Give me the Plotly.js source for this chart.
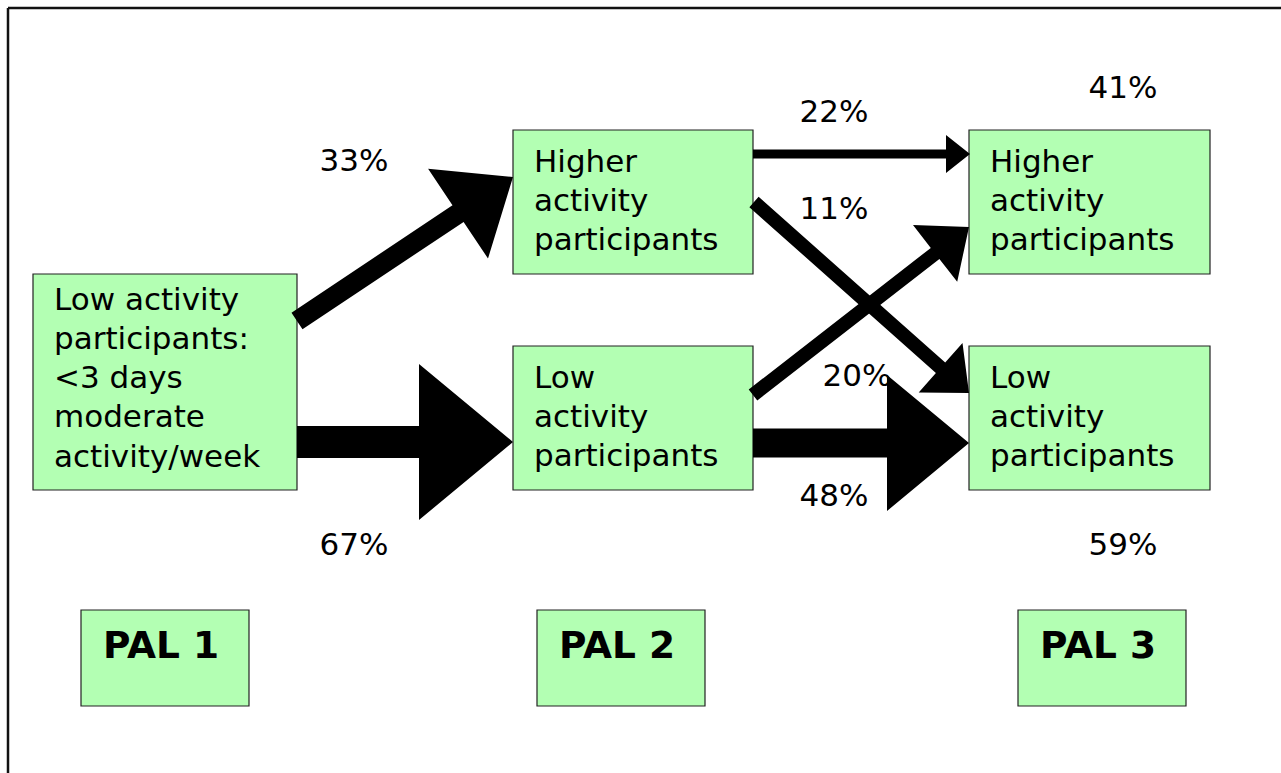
<!DOCTYPE html>
<html><head><meta charset="utf-8">
<script src="https://cdn.plot.ly/plotly-3.0.1.min.js"></script>
<style>html,body{margin:0;padding:0;background:#fff;overflow:hidden;} #chart{width:1281px;height:773px;}</style>
</head><body><div id="chart"></div>
<script>
// ---------------- data ----------------
const stages = ['PAL 1', 'PAL 2', 'PAL 3'];
const nodeLabels = [
  'Low activity<br>participants:<br>&lt;3 days<br>moderate<br>activity/week',
  'Higher<br>activity<br>participants',
  'Low<br>activity<br>participants',
  'Higher<br>activity<br>participants',
  'Low<br>activity<br>participants'
];
const flowFrom = [0, 0, 1, 1, 2, 2];
const flowTo   = [1, 2, 3, 4, 3, 4];
const flowPct  = [33, 67, 22, 11, 20, 48];
const pal3Totals = [41, 59];

// ---------------- geometry (pixel units, kept apart from data) ----------------
const nodeBox  = [[33,274,297,490],[513,130,753,274],[513,346,753,490],[969,130,1210,274],[969,346,1210,490]];
const firstBaseline = [310, 172, 388, 172, 388];
const LINE_STEP = 39.2;
const stageBox = [[81,610,249,706],[537,610,705,706],[1018,610,1186,706]];
const arrowStart = [[297,321],[297,442],[753,154],[754,202],[753,395],[753,443]];
const arrowTip   = [[513,177],[513,442],[970,154],[969,393],[969,227],[969,443]];
const shaftHalf  = [10, 16, 4.5, 7, 7, 14.5];
const headLen    = [66, 94, 24, 38, 43, 82];
const headHalf   = [54, 78, 19, 33, 36, 68];
const flowLabelPos  = [[354,163],[354,547],[834,114],[834,211],[857,378],[834,498]];
const totalLabelPos = [[1123,90],[1123,547]];

const FONT = 'DejaVu Sans, Verdana, sans-serif';
const TEXT_SIZE = 31;
const BOX_FILL = '#b3ffb3';
const BOX_LINE = '#222222';

function arrowPath(i){
  const [sx, sy] = arrowStart[i], [tx, ty] = arrowTip[i];
  const dx = tx - sx, dy = ty - sy, len = Math.hypot(dx, dy);
  const ux = dx/len, uy = dy/len, nx = -uy, ny = ux;
  const bx = tx - ux*headLen[i], by = ty - uy*headLen[i];
  const w = shaftHalf[i], h = headHalf[i];
  const pts = [
    [sx + nx*w, sy + ny*w], [bx + nx*w, by + ny*w], [bx + nx*h, by + ny*h],
    [tx, ty],
    [bx - nx*h, by - ny*h], [bx - nx*w, by - ny*w], [sx - nx*w, sy - ny*w]
  ];
  return 'M ' + pts.map(p => p[0].toFixed(1) + ',' + p[1].toFixed(1)).join(' L ') + ' Z';
}

const shapes = [];
nodeBox.concat(stageBox).forEach(b => shapes.push({
  type: 'rect', xref: 'x', yref: 'y', x0: b[0], y0: b[1], x1: b[2], y1: b[3],
  fillcolor: BOX_FILL, line: {color: BOX_LINE, width: 1.2}, layer: 'below'
}));
flowPct.forEach((p, i) => shapes.push({
  type: 'path', xref: 'x', yref: 'y', path: arrowPath(i),
  fillcolor: '#000000', line: {width: 0}, layer: 'above'
}));
// outer frame
shapes.push({type:'line', xref:'x', yref:'y', x0:8, y0:8, x1:1290, y1:8, line:{color:'#111', width:2.5}, layer:'above'});
shapes.push({type:'line', xref:'x', yref:'y', x0:8, y0:8, x1:8, y1:790, line:{color:'#111', width:2.5}, layer:'above'});

const annotations = [];
nodeLabels.forEach((t, i) => {
  t.split('<br>').forEach((line, k) => annotations.push({
    xref:'x', yref:'y', x: nodeBox[i][0] + 19, y: firstBaseline[i] + k*LINE_STEP - 0.364*TEXT_SIZE,
    xanchor:'left', yanchor:'middle', align:'left', text: line, showarrow:false,
    font:{family: FONT, size: TEXT_SIZE, color:'#000'}
  }));
});
stages.forEach((s, i) => annotations.push({
  xref:'x', yref:'y', x: stageBox[i][0] + 20, y: 645, xanchor:'left', yanchor:'middle',
  text: '<b>' + s + '</b>', showarrow:false, font:{family: FONT, size: 37.5, color:'#000'}
}));

const pctTrace = {
  type:'scatter', mode:'text',
  x: flowLabelPos.map(p => p[0]).concat(totalLabelPos.map(p => p[0])),
  y: flowLabelPos.map(p => p[1]).concat(totalLabelPos.map(p => p[1])),
  text: flowPct.map(v => v + '%').concat(pal3Totals.map(v => v + '%')),
  textposition: 'middle center',
  textfont: {family: FONT, size: TEXT_SIZE, color: '#000'},
  hoverinfo: 'skip', showlegend: false, cliponaxis: false
};

const layout = {
  width: 1281, height: 773,
  margin: {l:0, r:0, t:0, b:0, pad:0},
  paper_bgcolor: '#ffffff', plot_bgcolor: '#ffffff',
  xaxis: {range:[0,1281], visible:false, fixedrange:true},
  yaxis: {range:[773,0], visible:false, fixedrange:true},
  shapes: shapes, annotations: annotations, showlegend:false, hovermode:false
};

Plotly.newPlot('chart', [pctTrace], layout, {displayModeBar:false, staticPlot:true});
</script>
</body></html>
